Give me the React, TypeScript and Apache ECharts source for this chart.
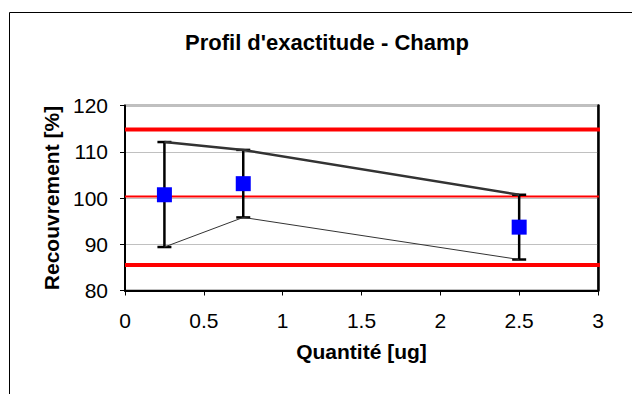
import React, { useEffect, useRef } from "react";
import * as echarts from "echarts";

// Quantities tested (ug)
const quantities = [0.25, 0.75, 2.5];
// Mean recovery (%)
const recovery = [100.7, 103.1, 93.7];
// Upper / lower limits of the tolerance interval (%)
const upperBound = [112.1, 110.4, 100.7];
const lowerBound = [89.4, 95.8, 86.7];
// Acceptance limits (%) and target
const acceptanceHigh = 114.8;
const target = 100.3;
const acceptanceLow = 85.5;
const limitSpan = [0, 3.06];

const xTicks = [0, 0.5, 1, 1.5, 2, 2.5, 3];
const yTicks = [80, 90, 100, 110, 120];

const FONT = "'Liberation Sans', Arial, sans-serif";

export default function App() {
  const ref = useRef<HTMLDivElement>(null);

  useEffect(() => {
    if (!ref.current) return;
    const chart = echarts.init(ref.current, undefined, { renderer: "svg" });

    const hLine = (name: string, y: number, width: number) => ({
      name,
      type: "line",
      data: limitSpan.map((x) => [x, y]),
      symbol: "none",
      clip: false,
      lineStyle: { color: "#ff0000", width },
      z: 3,
    });

    const errorBars = {
      name: "errorBars",
      type: "custom",
      clip: false,
      z: 4,
      data: quantities.map((q, i) => [q, lowerBound[i], upperBound[i]]),
      renderItem: (params: any, api: any) => {
        const x = api.value(0);
        const lo = api.coord([x, api.value(1)]);
        const hi = api.coord([x, api.value(2)]);
        const cap = 7;
        const style = { stroke: "#000", lineWidth: 2.5 };
        return {
          type: "group",
          children: [
            { type: "line", shape: { x1: hi[0], y1: hi[1], x2: lo[0], y2: lo[1] }, style },
            { type: "line", shape: { x1: hi[0] - cap, y1: hi[1], x2: hi[0] + cap, y2: hi[1] }, style },
            { type: "line", shape: { x1: lo[0] - cap, y1: lo[1], x2: lo[0] + cap, y2: lo[1] }, style },
          ],
        };
      },
    };

    chart.setOption({
      animation: false,
      backgroundColor: "#fff",
      textStyle: { fontFamily: FONT },
      title: {
        text: "Profil d'exactitude - Champ",
        left: 322,
        top: 26,
        textAlign: "center",
        textStyle: { fontFamily: FONT, fontSize: 22, fontWeight: "bold", color: "#000" },
      },
      graphic: [
        {
          type: "rect",
          shape: { x: 9.5, y: 12.5, width: 700, height: 500 },
          style: { fill: "none", stroke: "#000", lineWidth: 1 },
          silent: true,
        },
      ],
      grid: {
        left: 125,
        top: 105.5,
        width: 473,
        height: 185,
        show: true,
        borderColor: "#808080",
        borderWidth: 2,
        backgroundColor: "#fff",
      },
      xAxis: {
        type: "value",
        min: 0,
        max: 3,
        interval: 0.5,
        name: "Quantité [ug]",
        nameLocation: "middle",
        nameGap: 50,
        nameTextStyle: { fontFamily: FONT, fontSize: 21, fontWeight: "bold", color: "#000", verticalAlign: "top" },
        axisLine: { onZero: false, lineStyle: { color: "#000", width: 2 } },
        axisTick: { show: true, inside: false, length: 5, lineStyle: { color: "#000", width: 1 } },
        axisLabel: {
          margin: 19,
          fontSize: 21,
          color: "#000",
          fontFamily: FONT,
          formatter: (v: number) => (xTicks.includes(v) ? String(v) : ""),
        },
        splitLine: { show: false },
      },
      yAxis: [
        {
          type: "value",
          min: 80,
          max: 120,
          interval: 10,
          name: "Recouvrement [%]",
          nameLocation: "middle",
          nameGap: 62,
          nameTextStyle: { fontFamily: FONT, fontSize: 21, fontWeight: "bold", color: "#000" },
          axisLine: { show: true, lineStyle: { color: "#000", width: 2 } },
          axisTick: { show: true, inside: false, length: 5, lineStyle: { color: "#000", width: 1 } },
          axisLabel: {
            margin: 17,
            fontSize: 21,
            color: "#000",
            fontFamily: FONT,
            formatter: (v: number) => (yTicks.includes(v) ? String(v) : ""),
          },
          splitLine: { show: true, lineStyle: { color: "#c0c0c0", width: 1 } },
        },
        {
          type: "value",
          position: "right",
          min: 80,
          max: 120,
          interval: 10,
          axisLine: { show: true, lineStyle: { color: "#000", width: 2.5 } },
          axisTick: { show: false },
          axisLabel: { show: false },
          splitLine: { show: false },
        },
      ],
      series: [
        hLine("acceptanceHigh", acceptanceHigh, 4),
        hLine("target", target, 2),
        hLine("acceptanceLow", acceptanceLow, 4),
        {
          name: "upper",
          type: "line",
          data: quantities.map((q, i) => [q, upperBound[i]]),
          symbol: "none",
          lineStyle: { color: "#333", width: 2.5 },
          z: 4,
        },
        {
          name: "lower",
          type: "line",
          data: quantities.map((q, i) => [q, lowerBound[i]]),
          symbol: "none",
          lineStyle: { color: "#333", width: 1 },
          z: 4,
        },
        errorBars,
        {
          name: "recovery",
          type: "scatter",
          data: quantities.map((q, i) => [q, recovery[i]]),
          symbol: "rect",
          symbolSize: 15,
          itemStyle: { color: "#0000ff", opacity: 1 },
          z: 6,
        },
      ],
    });

    return () => chart.dispose();
  }, []);

  return (
    <div
      ref={ref}
      style={{ position: "absolute", left: 0, top: 0, width: 632, height: 394 }}
    />
  );
}
